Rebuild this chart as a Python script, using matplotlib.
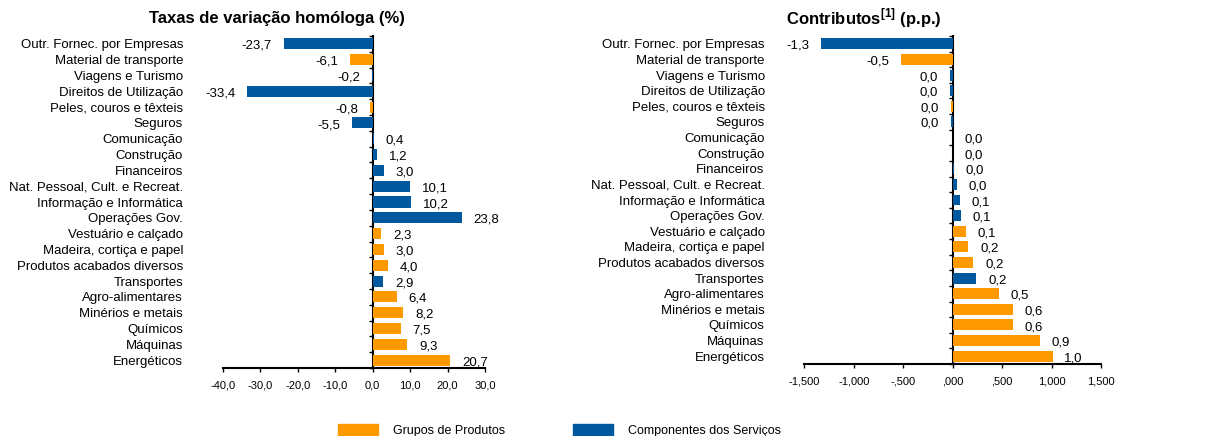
import matplotlib
matplotlib.use("Agg")
import matplotlib.pyplot as plt
from matplotlib.patches import Patch

plt.rcParams['font.family'] = ['Liberation Sans', 'DejaVu Sans']
plt.rcParams['mathtext.fontset'] = 'custom'
plt.rcParams['mathtext.bf'] = 'Liberation Sans:bold'
plt.rcParams['mathtext.rm'] = 'Liberation Sans'

# Dados (de cima para baixo)
categorias = [
    "Outr. Fornec. por Empresas", "Material de transporte", "Viagens e Turismo",
    "Direitos de Utilização", "Peles, couros e têxteis", "Seguros", "Comunicação",
    "Construção", "Financeiros", "Nat. Pessoal, Cult. e Recreat.",
    "Informação e Informática", "Operações Gov.", "Vestuário e calçado",
    "Madeira, cortiça e papel", "Produtos acabados diversos", "Transportes",
    "Agro-alimentares", "Minérios e metais", "Químicos", "Máquinas", "Energéticos",
]
grupo = ["S", "P", "S", "S", "P", "S", "S", "S", "S", "S", "S",
         "S", "P", "P", "P", "S", "P", "P", "P", "P", "P"]
taxas = [-23.7, -6.1, -0.2, -33.4, -0.8, -5.5, 0.4, 1.2, 3.0, 10.1, 10.2,
         23.8, 2.3, 3.0, 4.0, 2.9, 6.4, 8.2, 7.5, 9.3, 20.7]
contributos = [-1.33, -0.52, -0.03, -0.03, -0.02, -0.02, 0.003, 0.005, 0.01, 0.04, 0.07,
               0.08, 0.13, 0.16, 0.21, 0.24, 0.47, 0.61, 0.61, 0.88, 1.01]

LARANJA = "#ff9900"
AZUL = "#00589e"
cores = [LARANJA if g == "P" else AZUL for g in grupo]


def fmt_valor(v):
    s = f"{v:.1f}"
    if s == "-0.0":
        s = "0.0"
    return s.replace(".", ",")


def fmt_eixo_esq(v, pos):
    return f"{v:.1f}".replace(".", ",")


def fmt_eixo_dir(v, pos):
    s = f"{v:.3f}"
    s = s.replace("-0.", "-.")
    if s.startswith("0."):
        s = s[1:]
    return s.replace(".", ",")


def desenhar(ax, valores, xlim, passo, fmt):
    pos = list(range(len(categorias)))
    ax.barh(pos, valores, height=0.7, color=cores, zorder=2)
    ax.set_xlim(*xlim)
    ax.set_ylim(len(categorias) - 0.5, -0.5)
    ax.set_yticks(pos)
    ax.set_yticklabels(categorias, fontsize=9.5)
    ax.tick_params(axis='y', length=0, pad=28.5)
    ticks = []
    t = xlim[0]
    while t <= xlim[1] + 1e-9:
        ticks.append(t)
        t += passo
    ax.set_xticks(ticks)
    ax.xaxis.set_major_formatter(plt.FuncFormatter(fmt))
    ax.tick_params(axis='x', direction='out', length=3, width=1, labelsize=8, pad=6)
    for s in ["top", "right", "left"]:
        ax.spines[s].set_visible(False)
    ax.spines["bottom"].set_linewidth(1.5)

    # linha do zero com marcas entre categorias
    loc = (0 - xlim[0]) / (xlim[1] - xlim[0])
    sec = ax.secondary_yaxis(loc)
    sec.set_alignment('left')
    sec.set_yticks([i + 0.5 for i in range(-1, len(categorias))])
    sec.set_yticklabels([])
    sec.tick_params(direction='out', length=3, width=1)
    sec.spines['left'].set_linewidth(1.5)

    for p, v in zip(pos, valores):
        dx = 8.5 if v >= 0 else -8.5
        ax.annotate(fmt_valor(v), (v, p), xytext=(dx, -1.5), textcoords="offset points",
                    ha="left" if v >= 0 else "right", va="center", fontsize=9.5)


fig = plt.figure(figsize=(12.15, 4.36), dpi=100)
ax1 = fig.add_axes([222.7 / 1215, 68 / 436, 262.3 / 1215, 332 / 436])
ax2 = fig.add_axes([804.3 / 1215, 72 / 436, 296.7 / 1215, 328 / 436])

desenhar(ax1, taxas, (-40, 30), 10, fmt_eixo_esq)
desenhar(ax2, contributos, (-1.5, 1.5), 0.5, fmt_eixo_dir)

fig.text(277 / 1215, 1 - 18 / 436, "Taxas de variação homóloga (%)",
         ha="center", va="center", fontsize=12, fontweight="bold")
fig.text(864 / 1215, 1 - 18 / 436, r"Contributos$^{\mathbf{[1]}}$ (p.p.)",
         ha="center", va="center", fontsize=12, fontweight="bold")

handles = [Patch(color=LARANJA, label="Grupos de Produtos"),
           Patch(color=AZUL, label="Componentes dos Serviços")]
fig.legend(handles=handles, loc="center", bbox_to_anchor=(0.4605, 0.012), ncol=2,
           frameon=False, fontsize=9, handlelength=3.2, handleheight=1.1,
           handletextpad=1.2, columnspacing=5.5)

fig.savefig("out.png", dpi=100)
